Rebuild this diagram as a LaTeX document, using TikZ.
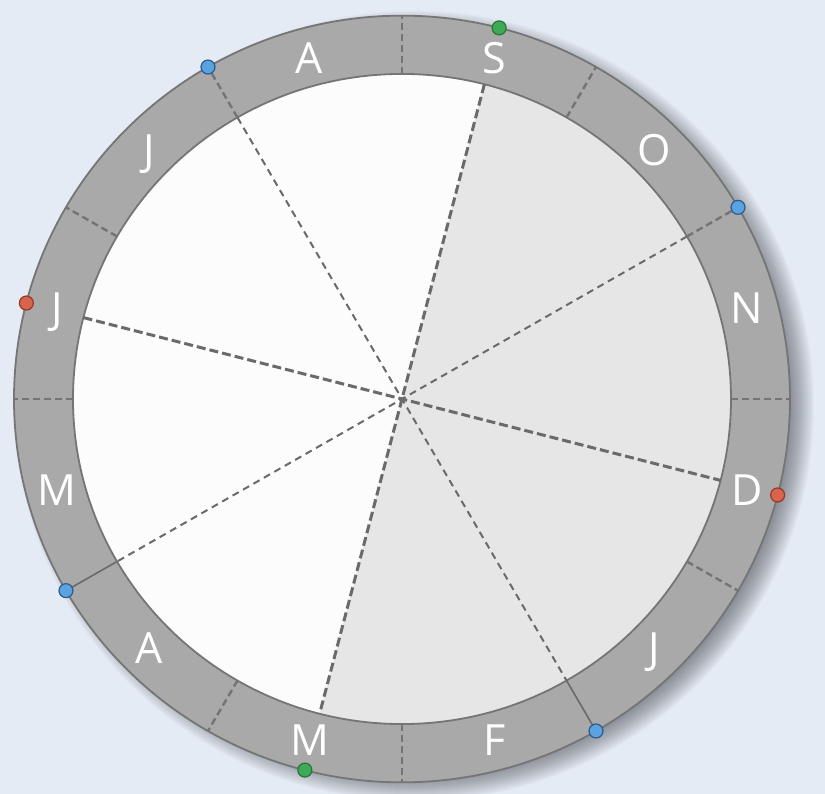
\documentclass[tikz,border=0pt]{standalone}
\usepackage{fontspec}
\newfontfamily\monthfont{Open Sans}
\definecolor{bgblue}{HTML}{E5EBF4}
\definecolor{ringgray}{HTML}{A9A9A9}
\definecolor{ringedge}{HTML}{757575}
\definecolor{innerwhite}{HTML}{FCFCFC}
\definecolor{innergray}{HTML}{E6E6E6}
\definecolor{dashgray}{HTML}{6A6A6A}
\definecolor{divgray}{HTML}{747474}
\definecolor{shadowgray}{HTML}{30333A}
\definecolor{dotblue}{HTML}{5AA2E0}
\definecolor{dotblueedge}{HTML}{2E5C8A}
\definecolor{dotgreen}{HTML}{3EAA58}
\definecolor{dotgreenedge}{HTML}{28743A}
\definecolor{dotred}{HTML}{D8654B}
\definecolor{dotrededge}{HTML}{93382A}
\begin{document}
\begin{tikzpicture}[x=1pt,y=1pt,
  ringdiv/.style={draw=divgray, line width=2.4pt, dash pattern=on 7pt off 4pt},
  thickdash/.style={draw=dashgray, line width=3pt, dash pattern=on 9pt off 4pt},
  thindash/.style={draw=dashgray, line width=2pt, dash pattern=on 7pt off 5pt},
  ringsolid/.style={draw=dashgray, line width=1.6pt},
  month/.style={text=white, font=\monthfont\fontsize{43}{43}\selectfont, inner sep=0pt, anchor=base, yshift=-15.5pt},
  dot/.style={circle, minimum size=14pt, inner sep=0pt, line width=1.2pt},
  bluedot/.style={dot, fill=dotblue, draw=dotblueedge},
  greendot/.style={dot, fill=dotgreen, draw=dotgreenedge},
  reddot/.style={dot, fill=dotred, draw=dotrededge}]
\useasboundingbox (0,0) rectangle (825,-794);
\fill[bgblue] (0,0) rectangle (825,-794);
\begin{scope}[shift={(402,-399)}, yscale=0.988]
  % soft shadow (right and lower right)
  \foreach \i in {372,...,400} {\fill[shadowgray, opacity=0.024] (12,-7) circle (\i);}
  % inner disc
  \coordinate (c) at (0,0);
  \fill[innerwhite] (c) circle (329);
  \fill[innergray] (c) -- (75.5:329) arc[start angle=75.5, end angle=-104.5, radius=329] -- cycle;
  % ring
  \fill[ringgray, even odd rule] (c) circle (388) (c) circle (329);
  \draw[ringedge, line width=1.8pt] (c) circle (388);
  \draw[ringedge, line width=1.8pt] (c) circle (329);
  % coordinates
  \foreach \a in {0,30,60,90,120,150,180,210,240,270,300,330} {
    \coordinate (i\a) at (\a:329);
    \coordinate (o\a) at (\a:388);
  }
  \coordinate (iSep) at (75.5:329);  \coordinate (oSep) at (75.5:388);
  \coordinate (iMar) at (255.5:329); \coordinate (oMar) at (255.5:388);
  \coordinate (iJun) at (165.5:329); \coordinate (oJun) at (165.5:388);
  \coordinate (iDec) at (345.5:329); \coordinate (oDec) at (345.5:388);
  % ring dividers
  \foreach \a in {0,60,90,150,180,240,270,330} {\draw[ringdiv] (i\a) -- (o\a);}
  \draw[ringdiv] (i30) -- (o30);
  \draw[ringdiv] (i120) -- (o120);
  \draw[ringsolid] (i210) -- (o210);
  \draw[ringsolid] (i300) -- (o300);
  % diameters
  \draw[thindash] (i30) -- (c) -- (i210);
  \draw[thindash] (i120) -- (c) -- (i300);
  \draw[thickdash] (iSep) -- (c) -- (iMar);
  \draw[thickdash] (iJun) -- (c) -- (iDec);
  % month labels
  \foreach \a/\t/\n in {75/S/mSep, 45/O/mOct, 15/N/mNov, -15/D/mDec, -45/J/mJan, -75/F/mFeb,
      -105/M/mMar, -135/A/mApr, -165/M/mMay, 165/J/mJun, 135/J/mJul, 105/A/mAug} {
    \node[month] (\n) at (\a:357) {\t};
  }
  % dots
  \node[bluedot] (b1) at (o30) {};
  \node[bluedot] (b2) at (o120) {};
  \node[bluedot] (b3) at (o210) {};
  \node[bluedot] (b4) at (o300) {};
  \node[greendot] (g1) at (oSep) {};
  \node[greendot] (g2) at (oMar) {};
  \node[reddot] (r1) at (oJun) {};
  \node[reddot] (r2) at (oDec) {};
\end{scope}
\end{tikzpicture}
\end{document}
